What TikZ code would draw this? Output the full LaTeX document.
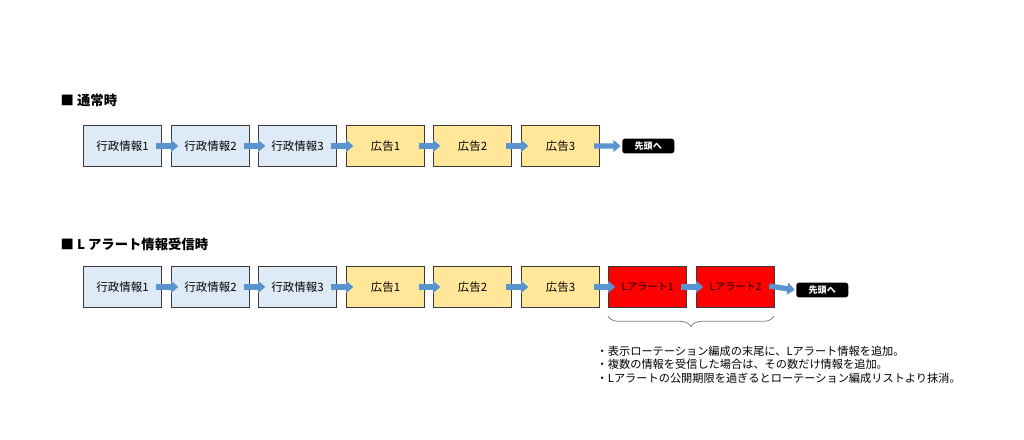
\documentclass[tikz,border=0pt]{standalone}
\usepackage{fontspec}
\setmainfont{Noto Sans CJK JP}
\usetikzlibrary{arrows.meta,decorations.pathreplacing}
\definecolor{boxblue}{HTML}{DEEBF7}
\definecolor{boxyellow}{HTML}{FFE699}
\definecolor{boxred}{HTML}{FF0000}
\definecolor{arrowblue}{HTML}{5A94CF}
\definecolor{bordergray}{HTML}{3A3A3A}
\tikzset{
  infobox/.style={draw=bordergray, line width=0.9pt, minimum width=58.5pt, minimum height=30.5pt, inner sep=0pt, font=\fontsize{8.6}{10}\selectfont, anchor=north west},
  gyosei/.style={infobox, fill=boxblue},
  kokoku/.style={infobox, fill=boxyellow},
  alert/.style={infobox, fill=boxred, font=\fontsize{7.6}{9}\selectfont},
  headnode/.style={fill=black, text=white, rounded corners=2pt, font=\bfseries\fontsize{6.8}{8}\selectfont, minimum width=39pt, minimum height=11pt, inner sep=0pt, anchor=west},
  flow/.style={draw=arrowblue, line width=4pt, -{Triangle[width=9pt,length=5.5pt]}, shorten <=-4.5pt, shorten >=-5.5pt},
  title/.style={font=\bfseries\fontsize{10}{12}\selectfont, anchor=west},
  note/.style={font=\fontsize{8.4}{10.2}\selectfont, align=left, anchor=north west},
}
\begin{document}
\begin{tikzpicture}[x=0.75pt,y=-0.75pt]
\useasboundingbox (0,0) rectangle (1024,439);
% top section
\node[title] (t1) at (56,100) {■ 通常時};
\node[gyosei] (a1) at (83,125) {行政情報1};
\node[gyosei] (a2) at (171,125) {行政情報2};
\node[gyosei] (a3) at (258,125) {行政情報3};
\node[kokoku] (a4) at (346,125) {広告1};
\node[kokoku] (a5) at (433,125) {広告2};
\node[kokoku] (a6) at (521,125) {広告3};
\node[headnode] (a7) at (622,146) {先頭へ};
\foreach \i/\j in {a1/a2,a2/a3,a3/a4,a4/a5,a5/a6}
  \draw[flow] (\i.east) -- (\j.west);
\draw[flow, shorten >=1pt] (a6.east) -- (a7.west);
% bottom section
\node[title] (t2) at (56,244) {■ L アラート情報受信時};
\node[gyosei] (b1) at (83,266) {行政情報1};
\node[gyosei] (b2) at (171,266) {行政情報2};
\node[gyosei] (b3) at (258,266) {行政情報3};
\node[kokoku] (b4) at (346,266) {広告1};
\node[kokoku] (b5) at (433,266) {広告2};
\node[kokoku] (b6) at (521,266) {広告3};
\node[alert] (b7) at (608,266) {Lアラート1};
\node[alert] (b8) at (696,266) {Lアラート2};
\node[headnode] (b9) at (796,290) {先頭へ};
\foreach \i/\j in {b1/b2,b2/b3,b3/b4,b4/b5,b5/b6,b6/b7,b7/b8}
  \draw[flow] (\i.east) -- (\j.west);
\draw[flow, shorten >=1pt] (b8.east) -- (b9.west);
\coordinate (brL) at (608,316);
\coordinate (brR) at (774,316);
\draw[gray, line width=0.6pt, decorate, decoration={brace, mirror, amplitude=8pt}] (brL) -- (brR);
\node[note] (n1) at (592,341) {・表示ローテーション編成の末尾に、Lアラート情報を追加。\\・複数の情報を受信した場合は、その数だけ情報を追加。\\・Lアラートの公開期限を過ぎるとローテーション編成リストより抹消。};
\end{tikzpicture}
\end{document}
